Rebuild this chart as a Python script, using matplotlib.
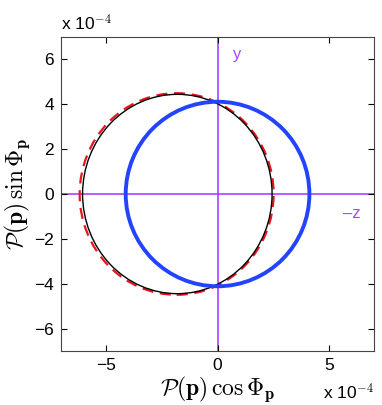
import matplotlib
matplotlib.use("Agg")
import matplotlib.pyplot as plt
from matplotlib.patches import Ellipse

plt.rcParams['font.family'] = ['Liberation Sans', 'DejaVu Sans']
plt.rcParams['mathtext.fontset'] = 'cm'

# values in units of 1e-4
# curves: centre x, centre y, full width, full height
curve_names = ['red_dashed', 'black', 'blue']
centre_x = [-1.83, -1.80, 0.0]
centre_y = [0.0, 0.0, 0.0]
widths = [8.68, 8.48, 8.22]
heights = [8.98, 8.88, 8.22]
colors = ['#e8141e', 'black', '#2343ff']
linestyles = [(0, (5, 3)), '-', '-']
linewidths = [1.6, 1.0, 2.8]

xticks = [-5, 0, 5]
yticks = [-6, -4, -2, 0, 2, 4, 6]
lim = 7
axis_color = '#b040ff'

fig = plt.figure(figsize=(3.82, 4.05), dpi=100)
ax = fig.add_axes([0.160, 0.133, 0.819, 0.776])

ax.axhline(0, color=axis_color, lw=1.2, zorder=1)
ax.axvline(0, color=axis_color, lw=1.2, zorder=1)

for i in range(len(curve_names)):
    e = Ellipse((centre_x[i], centre_y[i]), widths[i], heights[i],
                fill=False, edgecolor=colors[i], linestyle=linestyles[i],
                linewidth=linewidths[i], zorder=2 + i)
    ax.add_patch(e)

ax.text(0.7, 6.2, 'y', color=axis_color, fontsize=12, va='center')
ax.text(5.6, -0.85, '\u2013z', color=axis_color, fontsize=12, va='center')

ax.set_xlim(-lim, lim)
ax.set_ylim(-lim, lim)
ax.set_xticks(xticks)
ax.set_yticks(yticks)
ax.set_xticklabels(['\u2212%d' % -t if t < 0 else '%d' % t for t in xticks])
ax.set_yticklabels(['\u2212%d' % -t if t < 0 else '%d' % t for t in yticks])
ax.tick_params(direction='in', top=True, right=True, length=4, labelsize=12.5, pad=5)
for s in ax.spines.values():
    s.set_color('#444444')
    s.set_linewidth(0.8)

ax.set_xlabel(r'$\mathcal{P}(\mathbf{p})\,\cos\Phi_\mathbf{p}$', fontsize=17, labelpad=1)
ax.set_ylabel(r'$\mathcal{P}(\mathbf{p})\,\sin\Phi_\mathbf{p}$', fontsize=17, labelpad=2)

fig.text(0.160, 0.943, r'x 10$^{-4}$', fontsize=12.5, va='center', ha='left')
fig.text(0.978, 0.006, r'x 10$^{-4}$', fontsize=12.5, va='bottom', ha='right')

fig.savefig('out.png', dpi=100)
